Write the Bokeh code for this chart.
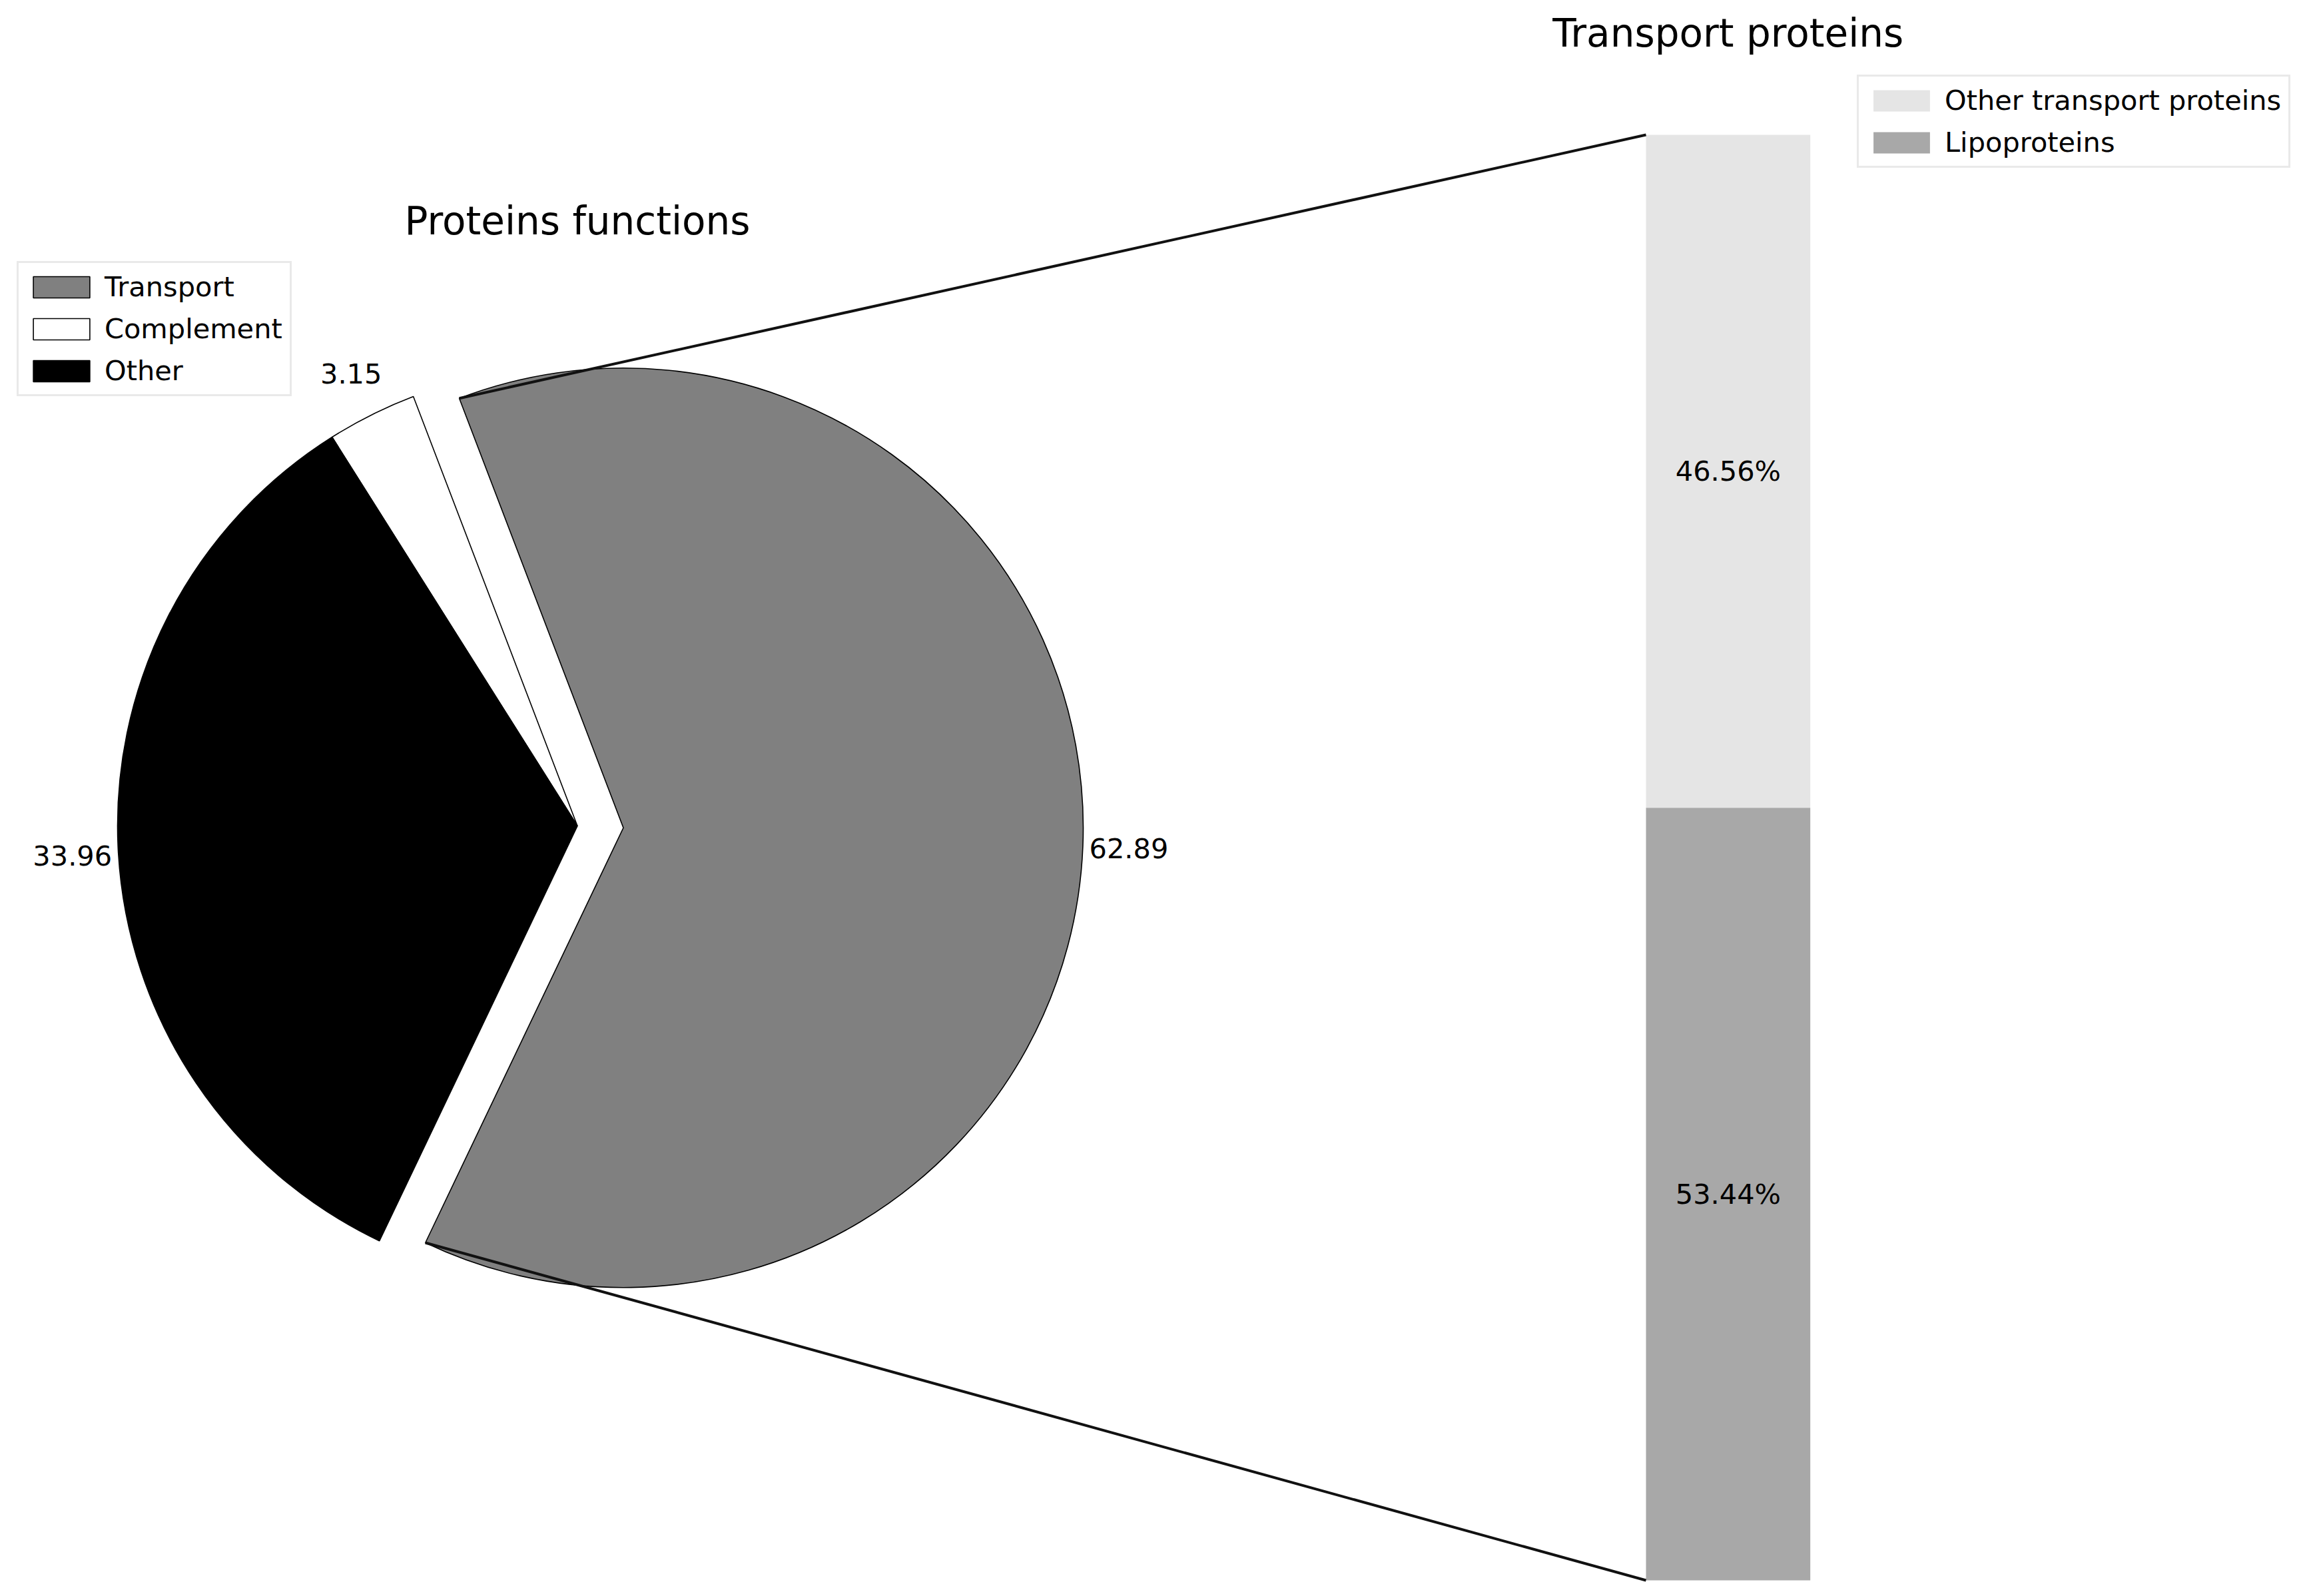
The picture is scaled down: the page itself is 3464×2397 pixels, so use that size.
import numpy as np
from bokeh.plotting import figure
from bokeh.models import Range1d, Legend, LegendItem, Label, ColumnDataSource
from bokeh.core.properties import value
from bokeh.embed import file_html
from bokeh.resources import INLINE

# ---------------- data ----------------
categories = ["Transport", "Complement", "Other"]
percent_values = [62.89, 3.15, 33.96]
sub_categories = ["Other transport proteins", "Lipoproteins"]
sub_percent = [46.56, 53.44]
pie_title = "Proteins functions"
bar_title = "Transport proteins"

# ---------------- style / layout ----------------
pie_colors = ["#808080", "#ffffff", "#000000"]
bar_colors = ["#e5e5e5", "#a8a8a8"]
explode = [0.1, 0.0, 0.0]
START_ANGLE = -115.5      # degrees
PCT_DIST = 1.1
FONT = "DejaVu Sans"
SMALL = "41.5px"
BIG = "58px"

W, H = 3448, 2381
R_PX = 690.5
CX_PX, CY_PX = 866.5, 1240.0


def dx(px):
    return (px - CX_PX) / R_PX


def dy(py):
    return (CY_PX - py) / R_PX


BAR_LEFT, BAR_RIGHT = dx(2471.0), dx(2717.7)
BAR_TOP, BAR_BOTTOM = dy(202.0), dy(2373.0)
BAR_H = BAR_TOP - BAR_BOTTOM
BAR_X = (BAR_LEFT + BAR_RIGHT) / 2

p = figure(width=W, height=H,
           x_range=Range1d(dx(0), dx(W)), y_range=Range1d(dy(H), dy(0)),
           output_backend="svg", toolbar_location=None, min_border=0,
           x_axis_location=None, y_axis_location=None)
p.grid.visible = False
p.outline_line_color = None
p.background_fill_color = "white"
p.border_fill_color = "white"

# ---------------- pie ----------------
vals = np.array(percent_values, dtype=float)
frac = vals / vals.sum()
ends = START_ANGLE + np.cumsum(frac) * 360.0
starts = ends - frac * 360.0
mids = np.radians((starts + ends) / 2)
ex = np.array(explode)
cxs = ex * np.cos(mids)
cys = ex * np.sin(mids)

pie_src = ColumnDataSource(dict(
    x=cxs, y=cys, start=np.radians(starts), end=np.radians(ends),
    color=pie_colors, cat=categories))
wr = p.wedge(x="x", y="y", radius=1.0, start_angle="start", end_angle="end",
             fill_color="color", line_color="black", line_width=1.6,
             source=pie_src)

lbl_src = ColumnDataSource(dict(
    x=cxs + PCT_DIST * np.cos(mids), y=cys + PCT_DIST * np.sin(mids),
    t=[f"{v:.2f}" for v in percent_values]))
p.text(x="x", y="y", text="t", source=lbl_src, text_align="center",
       text_baseline="middle", text_font=value(FONT), text_font_size=SMALL,
       text_color="black")

# ---------------- bar ----------------
sub = np.array(sub_percent, dtype=float) / 100.0
tops = BAR_TOP - BAR_H * np.concatenate([[0.0], np.cumsum(sub)[:-1]])
bottoms = tops - BAR_H * sub
bar_src = ColumnDataSource(dict(top=tops, bottom=bottoms, color=bar_colors,
                                cat=sub_categories))
qr = p.quad(left=BAR_LEFT, right=BAR_RIGHT, top="top", bottom="bottom",
            fill_color="color", line_color=None, source=bar_src)

bl_src = ColumnDataSource(dict(x=[BAR_X] * len(sub), y=(tops + bottoms) / 2,
                               t=[f"{v:.2f}%" for v in sub_percent]))
p.text(x="x", y="y", text="t", source=bl_src, text_align="center",
       text_baseline="middle", text_font=value(FONT), text_font_size=SMALL,
       text_color="black")

# ---------------- connection lines ----------------
th2 = np.radians(ends[0])
th1 = np.radians(starts[0])
p.segment(x0=[cxs[0] + np.cos(th2), cxs[0] + np.cos(th1)],
          y0=[cys[0] + np.sin(th2), cys[0] + np.sin(th1)],
          x1=[BAR_LEFT, BAR_LEFT], y1=[BAR_TOP, BAR_BOTTOM],
          line_color="#111111", line_width=4)

# ---------------- titles ----------------
p.add_layout(Label(x=0.0, y=dy(331), text=pie_title, text_align="center",
                   text_baseline="middle", text_font=FONT,
                   text_font_size=BIG, text_color="black"))
p.add_layout(Label(x=BAR_X, y=dy(49), text=bar_title, text_align="center",
                   text_baseline="middle", text_font=FONT,
                   text_font_size=BIG, text_color="black"))

# ---------------- legends ----------------
def make_legend(items, loc):
    return Legend(items=items, location=loc, margin=0, padding=11,
                  spacing=14, glyph_width=106, glyph_height=40,
                  label_height=40, label_standoff=12,
                  label_text_font=FONT, label_text_font_size=SMALL,
                  label_text_color="black",
                  border_line_color="#d4d4d4", border_line_width=3,
                  background_fill_color="white", background_fill_alpha=1.0)


leg1 = make_legend([LegendItem(label=c, renderers=[wr], index=i)
                    for i, c in enumerate(categories)], (25, 1786))
leg2 = make_legend([LegendItem(label=c, renderers=[qr], index=i)
                    for i, c in enumerate(sub_categories)], (2788, 2129))
p.add_layout(leg1)
p.add_layout(leg2)

open("out.html", "w").write(file_html(p, INLINE))
